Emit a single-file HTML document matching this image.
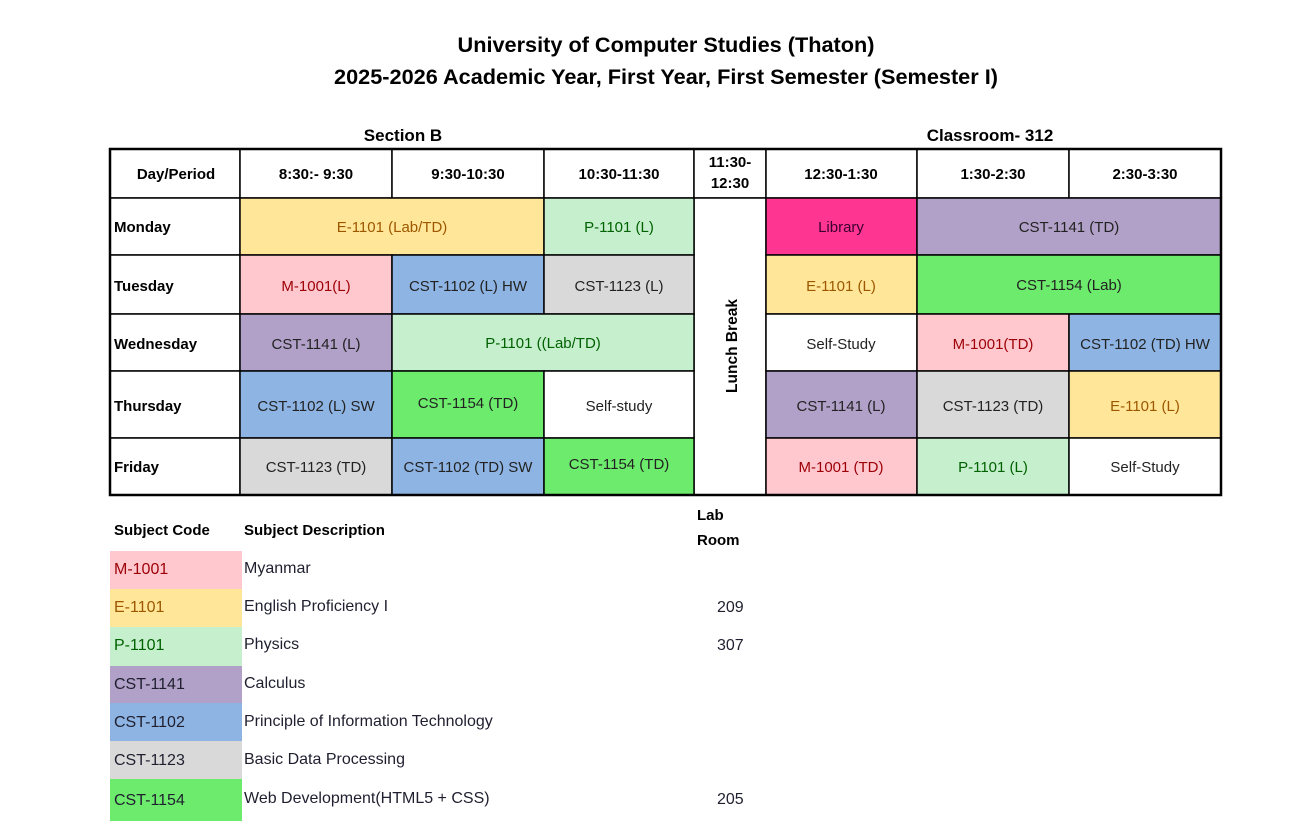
<!DOCTYPE html>
<html><head><meta charset="utf-8"><style>
html,body{margin:0;padding:0;background:#fff;}
svg{display:block;font-family:"Liberation Sans",Calibri,sans-serif;}
</style></head><body>
<svg width="1307" height="828" viewBox="0 0 1307 828" xmlns="http://www.w3.org/2000/svg">
<g font-weight="bold" font-size="21.7" text-anchor="middle" fill="#000">
<text x="666" y="52">University of Computer Studies (Thaton)</text>
<text x="666" y="84">2025-2026 Academic Year, First Year, First Semester (Semester I)</text>
<text x="403" y="141" font-size="17">Section B</text>
<text x="990" y="141" font-size="17">Classroom- 312</text>
</g>
<g stroke="#000" stroke-width="1.5">
<rect x="110" y="149" width="130" height="49" fill="#fff"/>
<rect x="240" y="149" width="152" height="49" fill="#fff"/>
<rect x="392" y="149" width="152" height="49" fill="#fff"/>
<rect x="544" y="149" width="150" height="49" fill="#fff"/>
<rect x="694" y="149" width="72" height="49" fill="#fff"/>
<rect x="766" y="149" width="151" height="49" fill="#fff"/>
<rect x="917" y="149" width="152" height="49" fill="#fff"/>
<rect x="1069" y="149" width="152" height="49" fill="#fff"/>
<rect x="110" y="198" width="130" height="57" fill="#fff"/>
<rect x="110" y="255" width="130" height="59" fill="#fff"/>
<rect x="110" y="314" width="130" height="57" fill="#fff"/>
<rect x="110" y="371" width="130" height="67" fill="#fff"/>
<rect x="110" y="438" width="130" height="57" fill="#fff"/>
<rect x="694" y="198" width="72" height="297" fill="#fff"/>
<rect x="240" y="198" width="304" height="57" fill="#FFE699"/>
<rect x="544" y="198" width="150" height="57" fill="#C6EFCE"/>
<rect x="766" y="198" width="151" height="57" fill="#FF3592"/>
<rect x="917" y="198" width="304" height="57" fill="#B1A0C7"/>
<rect x="240" y="255" width="152" height="59" fill="#FFC7CE"/>
<rect x="392" y="255" width="152" height="59" fill="#8EB4E3"/>
<rect x="544" y="255" width="150" height="59" fill="#D9D9D9"/>
<rect x="766" y="255" width="151" height="59" fill="#FFE699"/>
<rect x="917" y="255" width="304" height="59" fill="#6DEB6D"/>
<rect x="240" y="314" width="152" height="57" fill="#B1A0C7"/>
<rect x="392" y="314" width="302" height="57" fill="#C6EFCE"/>
<rect x="766" y="314" width="151" height="57" fill="#fff"/>
<rect x="917" y="314" width="152" height="57" fill="#FFC7CE"/>
<rect x="1069" y="314" width="152" height="57" fill="#8EB4E3"/>
<rect x="240" y="371" width="152" height="67" fill="#8EB4E3"/>
<rect x="392" y="371" width="152" height="67" fill="#6DEB6D"/>
<rect x="544" y="371" width="150" height="67" fill="#fff"/>
<rect x="766" y="371" width="151" height="67" fill="#B1A0C7"/>
<rect x="917" y="371" width="152" height="67" fill="#D9D9D9"/>
<rect x="1069" y="371" width="152" height="67" fill="#FFE699"/>
<rect x="240" y="438" width="152" height="57" fill="#D9D9D9"/>
<rect x="392" y="438" width="152" height="57" fill="#8EB4E3"/>
<rect x="544" y="438" width="150" height="57" fill="#6DEB6D"/>
<rect x="766" y="438" width="151" height="57" fill="#FFC7CE"/>
<rect x="917" y="438" width="152" height="57" fill="#C6EFCE"/>
<rect x="1069" y="438" width="152" height="57" fill="#fff"/>
<rect x="110" y="149" width="1111" height="346" fill="none" stroke-width="2.5"/>
</g>
<g font-size="15" font-weight="bold" text-anchor="middle">
<text x="176" y="179">Day/Period</text>
<text x="316" y="179">8:30:- 9:30</text>
<text x="468" y="179">9:30-10:30</text>
<text x="619" y="179">10:30-11:30</text>
<text x="730" y="167">11:30-</text>
<text x="730" y="188">12:30</text>
<text x="841" y="179">12:30-1:30</text>
<text x="993" y="179">1:30-2:30</text>
<text x="1145" y="179">2:30-3:30</text>
<text transform="translate(737,346) rotate(-90)" font-size="15.5">Lunch Break</text>
</g>
<g font-size="15" font-weight="bold">
<text x="114" y="232">Monday</text>
<text x="114" y="291">Tuesday</text>
<text x="114" y="349">Wednesday</text>
<text x="114" y="411">Thursday</text>
<text x="114" y="472">Friday</text>
</g>
<g font-size="15" text-anchor="middle" fill="#222">
<text x="392" y="232" fill="#9C5700">E-1101 (Lab/TD)</text>
<text x="619" y="232" fill="#006100">P-1101 (L)</text>
<text x="841" y="232" fill="#3a0030">Library</text>
<text x="1069" y="232">CST-1141 (TD)</text>
<text x="316" y="291" fill="#9C0006">M-1001(L)</text>
<text x="468" y="291">CST-1102 (L) HW</text>
<text x="619" y="291">CST-1123 (L)</text>
<text x="841" y="291" fill="#9C5700">E-1101 (L)</text>
<text x="1069" y="290">CST-1154 (Lab)</text>
<text x="316" y="349">CST-1141 (L)</text>
<text x="543" y="348" fill="#006100">P-1101 ((Lab/TD)</text>
<text x="841" y="349">Self-Study</text>
<text x="993" y="349" fill="#9C0006">M-1001(TD)</text>
<text x="1145" y="349">CST-1102 (TD) HW</text>
<text x="316" y="411">CST-1102 (L) SW</text>
<text x="468" y="408">CST-1154 (TD)</text>
<text x="619" y="411">Self-study</text>
<text x="841" y="411">CST-1141 (L)</text>
<text x="993" y="411">CST-1123 (TD)</text>
<text x="1145" y="411" fill="#9C5700">E-1101 (L)</text>
<text x="316" y="472">CST-1123 (TD)</text>
<text x="468" y="472">CST-1102 (TD) SW</text>
<text x="619" y="469">CST-1154 (TD)</text>
<text x="841" y="472" fill="#9C0006">M-1001 (TD)</text>
<text x="993" y="472" fill="#006100">P-1101 (L)</text>
<text x="1145" y="472">Self-Study</text>
</g>
<g>
<rect x="110" y="551" width="132" height="38" fill="#FFC7CE"/>
<rect x="110" y="589" width="132" height="38" fill="#FFE699"/>
<rect x="110" y="627" width="132" height="39" fill="#C6EFCE"/>
<rect x="110" y="666" width="132" height="37" fill="#B1A0C7"/>
<rect x="110" y="703" width="132" height="38" fill="#8EB4E3"/>
<rect x="110" y="741" width="132" height="38" fill="#D9D9D9"/>
<rect x="110" y="779" width="132" height="42" fill="#6DEB6D"/>
</g>
<g font-size="15" font-weight="bold">
<text x="114" y="535">Subject Code</text>
<text x="244" y="535">Subject Description</text>
<text x="697" y="520">Lab</text>
<text x="697" y="545">Room</text>
</g>
<g font-size="16" fill="#1f1f2f">
<text x="114" y="574" fill="#9C0006">M-1001</text>
<text x="114" y="612" fill="#9C5700">E-1101</text>
<text x="114" y="650" fill="#006100">P-1101</text>
<text x="114" y="689">CST-1141</text>
<text x="114" y="727">CST-1102</text>
<text x="114" y="765">CST-1123</text>
<text x="114" y="805">CST-1154</text>
<text x="244" y="573">Myanmar</text>
<text x="244" y="611">English Proficiency I</text>
<text x="244" y="649">Physics</text>
<text x="244" y="688">Calculus</text>
<text x="244" y="726">Principle of Information Technology</text>
<text x="244" y="764">Basic Data Processing</text>
<text x="244" y="803">Web Development(HTML5 + CSS)</text>
<text x="717" y="612">209</text>
<text x="717" y="650">307</text>
<text x="717" y="804">205</text>
</g>
</svg>
</body></html>
